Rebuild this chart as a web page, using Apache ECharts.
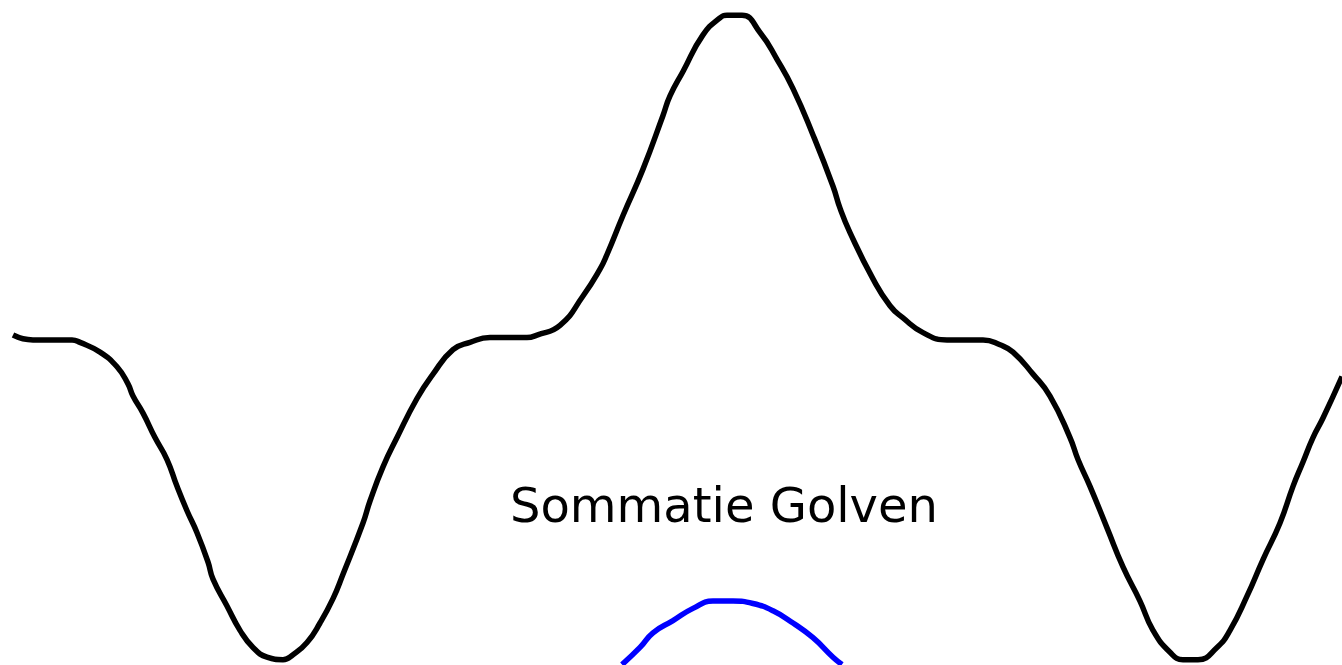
<!DOCTYPE html>
<html>
<head>
    <meta charset="utf-8">
    <style>
        body{
            width: 100%;
            height:100%;
            margin:0;
            padding:0;
            background:#fff;
        }
        #chart{
            width: 1342px;
            height: 665px;
        }
    </style>
</head>
<body>
    <div id="chart"></div>
    <script src="https://cdn.jsdelivr.net/npm/echarts@6/dist/echarts.min.js"></script>
    <script>
        // som van de golven (zwart), x = sample, y = amplitude
        var somX = [13,33,72,80,100,117,128,133,143,155,167,177,187,197,208,213,227,240,253,267,283,293,307,320,333,343,363,370,383,397,417,433,453,470,490,527,537,560,583,600,607,623,643,663,670,683,703,720,727,742,760,777,793,813,833,840,850,873,890,903,923,947,983,1000,1013,1033,1050,1070,1078,1090,1107,1123,1140,1153,1170,1183,1198,1217,1230,1247,1263,1280,1293,1303,1313,1323,1342];
        var somY = [0.02,0,0,-0.01,-0.05,-0.11,-0.18,-0.23,-0.30,-0.40,-0.49,-0.60,-0.70,-0.79,-0.91,-0.98,-1.09,-1.19,-1.26,-1.30,-1.31,-1.29,-1.24,-1.16,-1.06,-0.96,-0.75,-0.66,-0.52,-0.40,-0.24,-0.14,-0.04,-0.01,0.01,0.01,0.02,0.06,0.18,0.29,0.35,0.51,0.70,0.92,1.00,1.10,1.25,1.32,1.33,1.33,1.26,1.15,1.03,0.84,0.63,0.54,0.44,0.25,0.14,0.09,0.03,0,0,-0.02,-0.05,-0.14,-0.23,-0.40,-0.49,-0.60,-0.77,-0.93,-1.07,-1.19,-1.28,-1.31,-1.31,-1.26,-1.19,-1.05,-0.90,-0.75,-0.60,-0.50,-0.40,-0.32,-0.15];

        // grondgolf (blauw), alleen de top is zichtbaar
        var golfX = [622,640,653,673,693,713,733,753,773,793,813,833,842];
        var golfY = [-1.33,-1.26,-1.20,-1.15,-1.10,-1.07,-1.07,-1.08,-1.11,-1.16,-1.22,-1.30,-1.33];

        var titel = "Sommatie Golven";

        function zip(xs, ys){
            var out = [];
            for( var i = 0; i < xs.length; i++ ){
                out.push([xs[i], ys[i]]);
            }
            return out;
        }

        var chart = echarts.init(document.getElementById("chart"));
        var option = {
            backgroundColor: '#ffffff',
            animation: false,
            title: {
                text: titel,
                left: 510,
                top: 486,
                padding: 0,
                textStyle: {
                    fontFamily: 'DejaVu Sans',
                    fontSize: 48,
                    fontWeight: 'normal',
                    color: '#000000'
                }
            },
            grid: {
                left: 0,
                right: 0,
                top: 0,
                bottom: 0
            },
            xAxis: {
                type: 'value',
                min: 0,
                max: 1342,
                show: false
            },
            yAxis: {
                type: 'value',
                min: -1.332,
                max: 1.393,
                show: false
            },
            series: [
                {
                    name: 'som',
                    type: 'line',
                    data: zip(somX, somY),
                    smooth: true,
                    symbol: 'none',
                    clip: false,
                    lineStyle: { color: '#000000', width: 5.5 }
                },
                {
                    name: 'golf',
                    type: 'line',
                    data: zip(golfX, golfY),
                    smooth: true,
                    symbol: 'none',
                    clip: false,
                    lineStyle: { color: '#0000ff', width: 5.5 }
                }
            ]
        };
        chart.setOption( option );
    </script>
</body>
</html>
